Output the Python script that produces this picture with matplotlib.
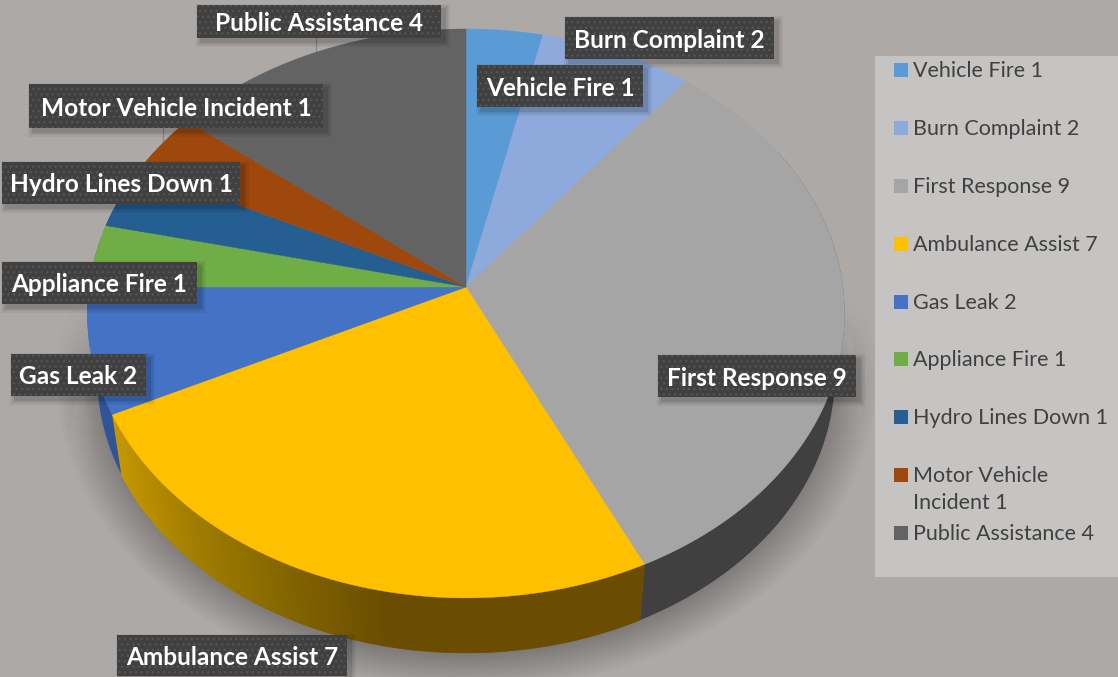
import matplotlib
matplotlib.use('Agg')
import matplotlib.pyplot as plt
from matplotlib.patches import Rectangle, Polygon
import numpy as np

categories = ['Vehicle Fire', 'Burn Complaint', 'First Response', 'Ambulance Assist', 'Gas Leak',
              'Appliance Fire', 'Hydro Lines Down', 'Motor Vehicle Incident', 'Public Assistance']
values = [1, 2, 9, 7, 2, 1, 1, 1, 4]
colors = ['#5B9BD5', '#8EA9DB', '#A5A5A5', '#FFC000', '#4472C4', '#70AD47', '#255E91', '#9E480E', '#636363']
side_colors = ['#3F6C95', '#637699', '#404040', '#6A4D00', '#2F5597', '#4E7931', '#1A4165', '#6E3209', '#454545']
legend_names = ['Vehicle Fire 1', 'Burn Complaint 2', 'First Response 9', 'Ambulance Assist 7', 'Gas Leak 2',
                'Appliance Fire 1', 'Hydro Lines Down 1', 'Motor Vehicle\nIncident 1', 'Public Assistance 4']

# label boxes in pixels: left, top, right, bottom
boxes = [(477, 65, 643, 107), (565, 17, 774, 59), (658, 355, 856, 397), (117, 635, 347, 676), (11, 354, 146, 396),
         (2, 262, 197, 304), (2, 162, 240, 204), (29, 84, 323, 128), (197, 5, 441, 38)]
legend_y = [70, 128, 186, 244, 302, 359, 417, 475, 533]

plt.rcParams['font.family'] = ['Lato', 'DejaVu Sans']
plt.rcParams['hatch.linewidth'] = 1.0
BG = '#ADA9A7'

fig = plt.figure(figsize=(11.18, 6.77), dpi=100, facecolor=BG)
ax = fig.add_axes([0, 0, 1, 1])
ax.set_xlim(0, 1118)
ax.set_ylim(677, 0)
ax.axis('off')


# circle to screen, the pie is seen in perspective
def top_xy(theta):
    u, v = np.sin(theta), np.cos(theta)
    w = 1 + 0.093 * v
    return 466 + 377 * u / w, 287 - 282 * v / w


def bottom_xy(theta):
    x, y = top_xy(theta)
    return 466 + 0.974 * (x - 466), 350 + 0.974 * (y - 287)


# soft shadow below the pie
X, Y = np.meshgrid(np.arange(1118), np.arange(677))
d = np.sqrt(((X - 466) / 412) ** 2 + ((Y - 376) / 316) ** 2)
alpha = 0.3 * np.clip((1.0 - d) / 0.13, 0, 1) * np.clip((Y - 300) / 90, 0, 1)
shadow = np.zeros((677, 1118, 4))
shadow[..., 3] = alpha
ax.imshow(shadow, extent=(0, 1118, 677, 0), zorder=1, aspect='auto')
ax.set_xlim(0, 1118)
ax.set_ylim(677, 0)

# faint glass sides next to the pie, fading out downwards
for f in np.linspace(0.25, 1, 6):
    ax.add_patch(Polygon([(846, 290), (846 + 20 * f, 290 + 150 * f), (840, 290 + 150 * f)],
                         fc='#C4C1BF', alpha=0.03, lw=0, zorder=1))
    ax.add_patch(Polygon([(80, 375), (80 - 17 * f, 375 + 95 * f), (95, 375 + 95 * f)],
                         fc='#C4C1BF', alpha=0.03, lw=0, zorder=1))

edges = np.cumsum([0] + values) / sum(values) * 2 * np.pi

# leader lines
ax.plot([316, 316], [38, 54], color='#8A8A8A', lw=1, zorder=2)
ax.plot([163, 163], [128, 145], color='#8A8A8A', lw=1, zorder=2)

# pie wall
wall_from, wall_to = np.radians(60), np.radians(300)
for i in range(len(values)):
    a, b = max(edges[i], wall_from), min(edges[i + 1], wall_to)
    if b <= a:
        continue
    if categories[i] == 'Ambulance Assist':
        # the gold wall gets darker to the right
        steps = np.linspace(a, b, 140)
        for t0, t1 in zip(steps[:-1], steps[1:]):
            xb, yb = bottom_xy(np.array([t0, t1]))
            xt, yt = top_xy(np.array([t1, t0]))
            pos = xb.mean()
            rgb = [np.interp(pos, [120, 200, 300, 390], c) for c in
                   ([0.78, 0.63, 0.50, 0.416], [0.60, 0.49, 0.385, 0.30], [0.0, 0.0, 0.0, 0.0])]
            ax.add_patch(Polygon(np.column_stack([np.r_[xb, xt], np.r_[yb, yt]]), fc=rgb, ec=rgb, lw=0.5, zorder=3))
    else:
        t = np.linspace(a, b, 80)
        xb, yb = bottom_xy(t)
        xt, yt = top_xy(t[::-1])
        ax.add_patch(Polygon(np.column_stack([np.r_[xb, xt], np.r_[yb, yt]]), fc=side_colors[i], lw=0, zorder=3))

# pie top
for i in range(len(values)):
    t = np.linspace(edges[i], edges[i + 1], 120)
    x, y = top_xy(t)
    ax.add_patch(Polygon(np.column_stack([np.r_[466, x], np.r_[287, y]]), fc=colors[i], ec=colors[i], lw=0.3, zorder=4))

# data labels
for (x0, y0, x1, y1), name, val in zip(boxes, categories, values):
    for grow, al in [(5, 0.05), (3, 0.07), (1, 0.10)]:
        ax.add_patch(Rectangle((x0 + 4 - grow, y0 + 4 - grow), x1 - x0 + 2 * grow, y1 - y0 + 2 * grow,
                               fc='black', alpha=al, lw=0, zorder=5))
    ax.add_patch(Rectangle((x0, y0), x1 - x0, y1 - y0, fc='#404040', ec='#545454', hatch='...', lw=0, zorder=6))
    ax.text((x0 + x1) / 2, (y0 + y1) / 2 + 2, f'{name} {val}', color='white', fontsize=17.6, fontweight='bold',
            ha='center', va='center', zorder=7)

# legend
ax.add_patch(Rectangle((875, 56), 243, 521, fc='#C6C4C2', lw=0, zorder=5))
for y, name, col in zip(legend_y, legend_names, colors):
    ax.add_patch(Rectangle((894, y - 7), 14, 14, fc=col, lw=0, zorder=6))
    ax.text(913, y - 9, name, color='#404040', fontsize=15.5, ha='left', va='top', linespacing=1.45, zorder=7)

fig.savefig('out.png', dpi=100, facecolor=BG)
